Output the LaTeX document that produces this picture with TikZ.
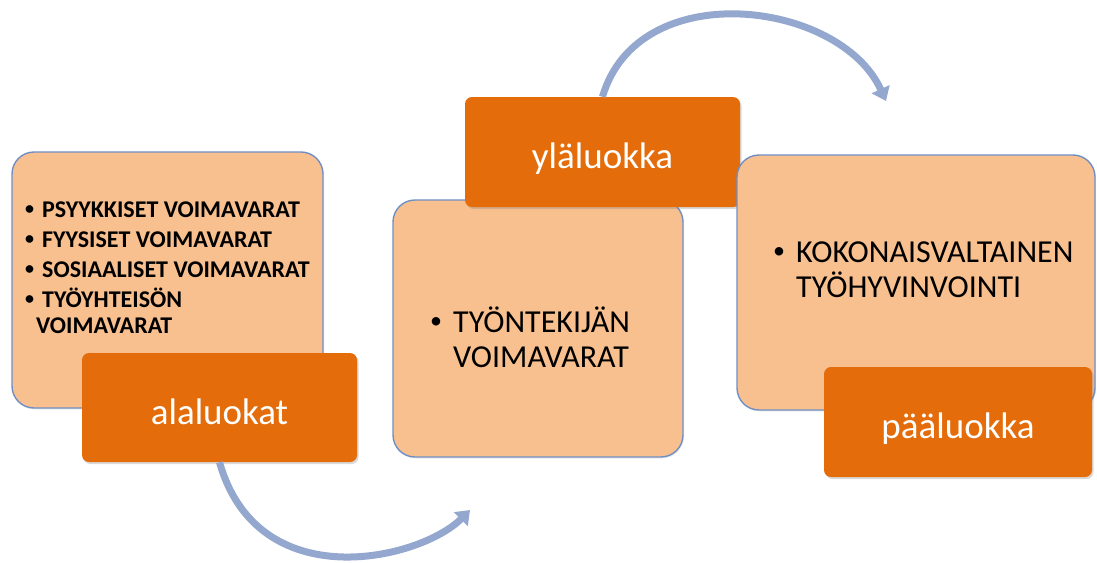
\documentclass[tikz,border=0pt]{standalone}
\usepackage{fontspec}
\setmainfont{Carlito}
\usetikzlibrary{arrows.meta,shadows}

\definecolor{peach}{HTML}{F9C08F}
\definecolor{rust}{HTML}{E46C0A}
\definecolor{slate}{HTML}{6F8FC4}
\definecolor{steel}{HTML}{93A7CF}

\newcommand{\bul}[1]{\makebox[#1][l]{\raisebox{0.12em}{\scalebox{0.75}{\textbullet}}}}

\tikzset{
  panel/.style={draw=slate, line width=1.4pt, fill=peach, rounded corners=22pt, inner sep=0pt,
    drop shadow={opacity=0.15, shadow xshift=1pt, shadow yshift=-1.5pt}},
  tag/.style={fill=rust, rounded corners=7pt, inner sep=0pt, text=white,
    font=\fontsize{37}{42}\selectfont, text height=33pt, text depth=0pt,
    drop shadow={opacity=0.3, shadow xshift=1.5pt, shadow yshift=-2pt}},
  curvearrow/.style={steel, line width=7pt, -{Triangle[length=13pt,width=19pt]}},
  itemtext/.style={anchor=base west, inner sep=0pt, align=left}
}

\begin{document}
\begin{tikzpicture}[x=1pt,y=-1pt]
  \useasboundingbox (0,0) rectangle (1097,562);

  % three steps
  \node[panel, minimum width=311pt, minimum height=256pt] (low) at (167.5,280) {};
  \node[tag, minimum width=275pt, minimum height=109pt] (ala) at (219.5,407.5) {alaluokat};

  \node[panel, minimum width=290pt, minimum height=257pt] (mid) at (538,328.5) {};
  \node[tag, minimum width=275pt, minimum height=110pt] (yla) at (602.5,152) {yläluokka};

  \node[panel, minimum width=358pt, minimum height=255pt] (top) at (916,282.5) {};
  \node[tag, minimum width=268pt, minimum height=110pt] (paa) at (958,422) {pääluokka};

  % texts
  \node[itemtext, font=\fontsize{24}{30}\bfseries\selectfont] (lowtxt) at (25,333)
    {\bul{17pt}PSYYKKISET VOIMAVARAT\\
     \bul{17pt}FYYSISET VOIMAVARAT\\
     \bul{17pt}SOSIAALISET VOIMAVARAT\\
     \bul{17pt}TYÖYHTEISÖN\\[-4pt]
     \hspace*{11pt}VOIMAVARAT};
  \node[itemtext, font=\fontsize{32}{35}\selectfont] (midtxt) at (430,367)
    {\bul{23pt}TYÖNTEKIJÄN\\
     \hspace*{23pt}VOIMAVARAT};
  \node[itemtext, font=\fontsize{32}{35}\selectfont] (toptxt) at (773,297)
    {\bul{23pt}KOKONAISVALTAINEN\\
     \hspace*{23pt}TYÖHYVINVOINTI};

  % curved arrows
  \coordinate (tipa) at (470,510);
  \coordinate (tipb) at (886,101);
  \draw[curvearrow] (ala.south) .. controls (258,598) and (420,560) .. (tipa);
  \draw[curvearrow] (yla.north) .. controls (638,-25) and (840,0) .. (tipb);
\end{tikzpicture}
\end{document}
